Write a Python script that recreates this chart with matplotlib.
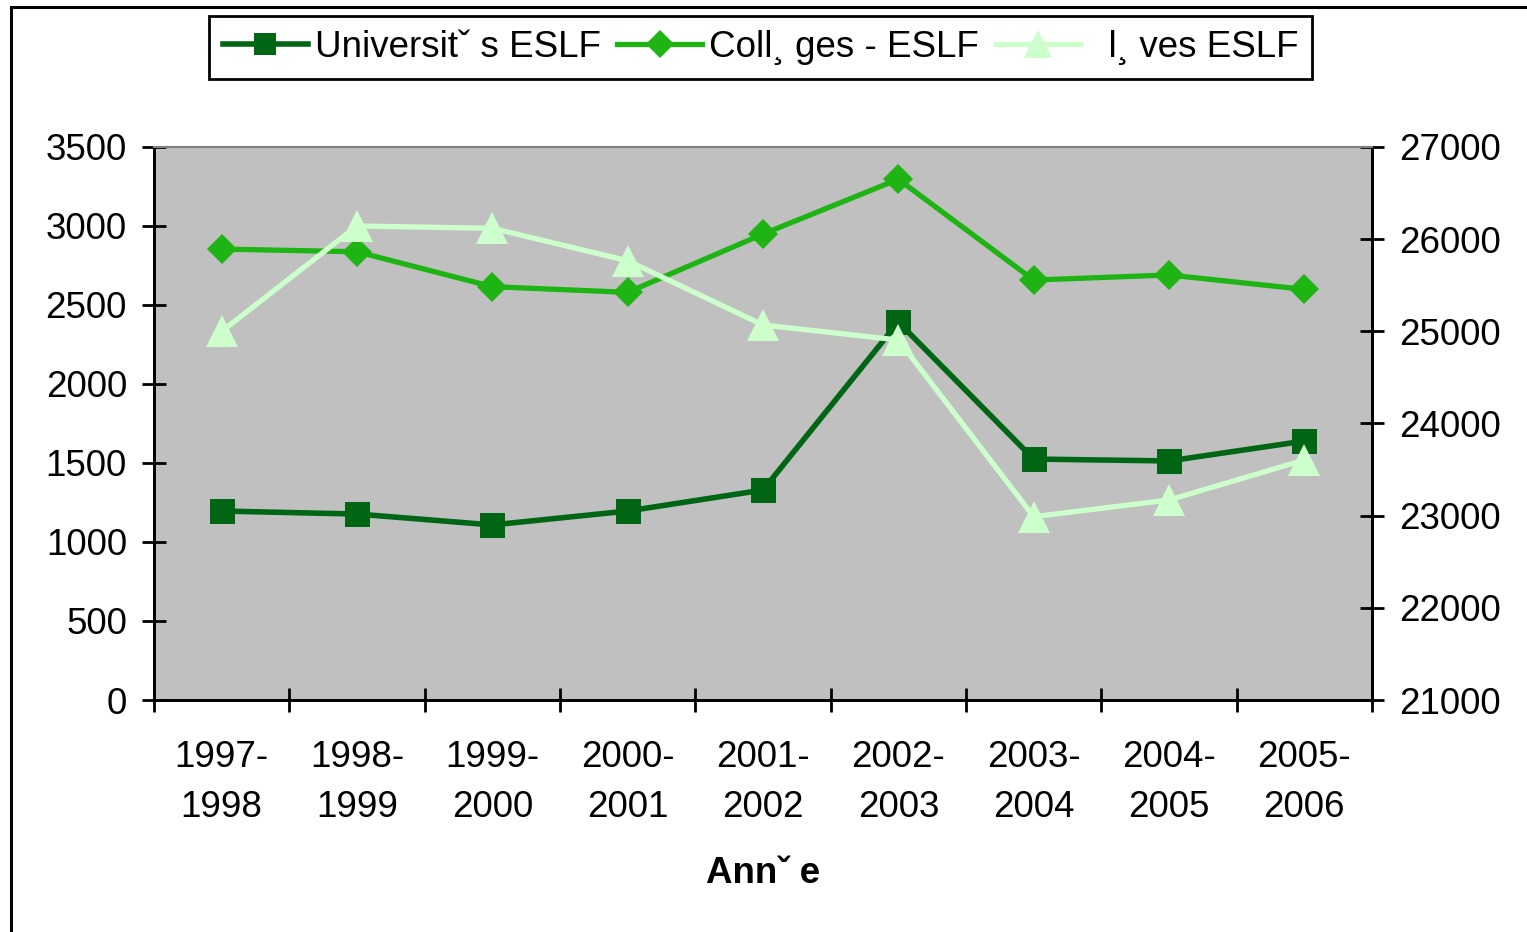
import numpy as np
import matplotlib.pyplot as plt
from matplotlib.patches import Rectangle

plt.rcParams['font.family'] = ['Liberation Sans', 'DejaVu Sans']

# data
years = ['1997-\n1998', '1998-\n1999', '1999-\n2000', '2000-\n2001', '2001-\n2002',
         '2002-\n2003', '2003-\n2004', '2004-\n2005', '2005-\n2006']
universites = [1196, 1177, 1108, 1196, 1329, 2392, 1525, 1513, 1639]
colleges = [2854, 2837, 2616, 2580, 2949, 3296, 2658, 2690, 2599]
eleves = [25000, 26143, 26118, 25766, 25069, 24906, 22989, 23170, 23604]

labels = ['Universitˇ s ESLF', 'Coll¸ ges - ESLF', '  l¸ ves ESLF']
colors = ['#006614', '#1EB414', '#CCFFCC']
FS = 26.5

W, H = 1527, 932
fig = plt.figure(figsize=(W / 100, H / 100), dpi=100)

# outer chart frame (cut off on right and bottom)
fig.patches.append(Rectangle((11 / W, -0.1), 1.2, 1.1 - 7 / H, transform=fig.transFigure,
                             fill=False, edgecolor='black', linewidth=2.2, zorder=0))

ax = fig.add_axes([154 / W, 1 - 700 / H, (1372 - 154) / W, (700 - 147) / H])
ax.set_facecolor('#C0C0C0')
x = np.arange(len(years))

l1, = ax.plot(x, universites, color=colors[0], lw=4, marker='s', ms=18,
              markeredgewidth=0, label=labels[0], clip_on=False)
l2, = ax.plot(x, colleges, color=colors[1], lw=3.8, marker='D', ms=15.5,
              markeredgewidth=0, label=labels[1], clip_on=False)

ax2 = ax.twinx()
l3, = ax2.plot(x, eleves, color=colors[2], lw=3.8, marker='^', ms=23,
               markeredgewidth=0, label=labels[2], clip_on=False)

ax.set_xlim(-0.5, len(years) - 0.5)
ax.set_ylim(0, 3500)
ax.set_yticks(np.arange(0, 3501, 500))
ax2.set_ylim(21000, 27000)
ax2.set_yticks(np.arange(21000, 27001, 1000))

# category boundaries get tick marks, labels sit at the centres
ax.set_xticks(np.arange(-0.5, len(years), 1.0))
ax.set_xticklabels([])
ax.set_xticks(x, minor=True)
ax.set_xticklabels(years, minor=True, fontsize=FS, linespacing=1.55)
ax.tick_params(axis='x', which='minor', length=0, pad=29)
ax.tick_params(axis='x', which='major', direction='inout', length=17, width=2)
ax.tick_params(axis='y', direction='inout', length=17, width=2, labelsize=FS, pad=11)
ax2.tick_params(axis='y', direction='inout', length=17, width=2, labelsize=FS, pad=11)

for a in (ax, ax2):
    for side in ('left', 'right', 'bottom'):
        a.spines[side].set_linewidth(2)
        a.spines[side].set_color('black')
    a.spines['top'].set_color('#808080')
    a.spines['top'].set_linewidth(1.5)

ax.set_xlabel('Annˇ e', fontsize=FS, fontweight='bold', labelpad=22)

leg = fig.legend([l1, l2, l3], labels, loc='center',
                 bbox_to_anchor=(760.5 / W, 1 - 47.5 / H), ncol=3, fontsize=FS,
                 frameon=True, fancybox=False, framealpha=1, edgecolor='black',
                 handlelength=2.3, handletextpad=0.2, columnspacing=0.45,
                 borderpad=0.37, markerscale=0.9)
leg.get_frame().set_linewidth(2)

fig.savefig('out.png', dpi=100, facecolor='white')
